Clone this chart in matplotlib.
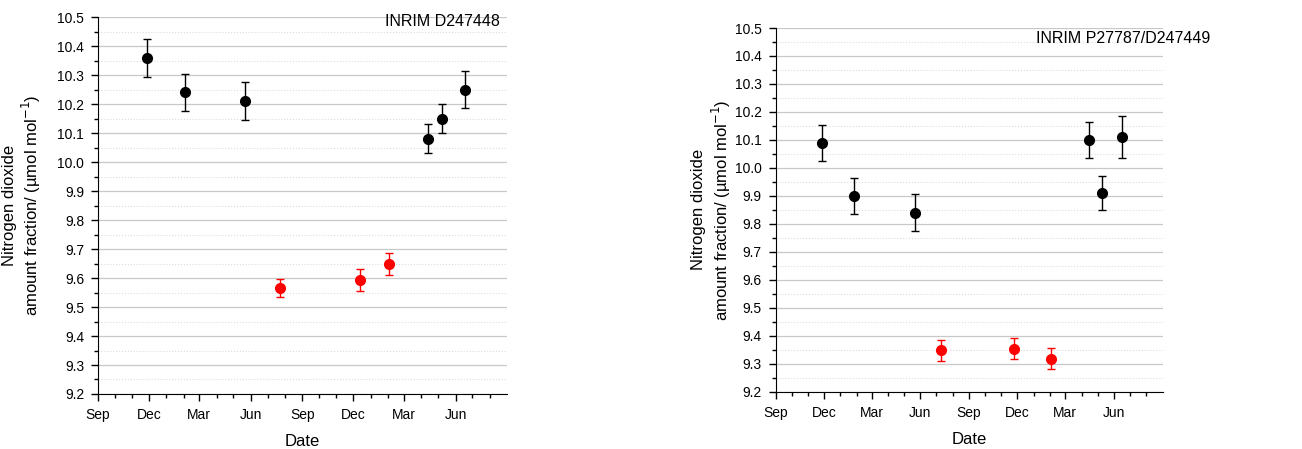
import datetime as dt
import matplotlib
matplotlib.use("Agg")
import matplotlib.pyplot as plt
import matplotlib.dates as mdates
from matplotlib.ticker import MultipleLocator, FormatStrFormatter

plt.rcParams["font.family"] = ["Liberation Sans", "DejaVu Sans"]

# left panel: INRIM D247448
left_black_dates = ["2018-11-28", "2019-02-03", "2019-05-22", "2020-04-13", "2020-05-08", "2020-06-17"]
left_black_vals = [10.36, 10.24, 10.21, 10.08, 10.15, 10.25]
left_black_err = [0.065, 0.065, 0.065, 0.05, 0.05, 0.065]
left_red_dates = ["2019-07-23", "2019-12-13", "2020-02-03"]
left_red_vals = [9.565, 9.593, 9.65]
left_red_err = [0.031, 0.038, 0.038]

# right panel: INRIM P27787/D247449
right_black_dates = ["2018-11-27", "2019-01-26", "2019-05-22", "2020-04-14", "2020-05-09", "2020-06-16"]
right_black_vals = [10.09, 9.90, 9.84, 10.10, 9.91, 10.11]
right_black_err = [0.065, 0.065, 0.065, 0.065, 0.06, 0.075]
right_red_dates = ["2019-07-10", "2019-11-25", "2020-02-02"]
right_red_vals = [9.348, 9.354, 9.318]
right_red_err = [0.038, 0.038, 0.038]

YLABEL = "Nitrogen dioxide\namount fraction/ (\u00b5mol mol$^{-1}$)"


def to_dates(lst):
    return [dt.datetime.strptime(s, "%Y-%m-%d") for s in lst]


def draw_panel(ax, bd, bv, be, rd, rv, re, title, title_xy, ylab_x):
    ax.errorbar(to_dates(bd), bv, yerr=be, fmt="o", color="black", ms=7,
                capsize=3, elinewidth=1, capthick=1, zorder=3)
    ax.errorbar(to_dates(rd), rv, yerr=re, fmt="o", color="red", ms=7,
                capsize=3, elinewidth=1, capthick=1, zorder=3)
    ax.set_xlim(dt.datetime(2018, 9, 1), dt.datetime(2020, 8, 31, 20))
    ax.set_ylim(9.2, 10.5)
    ax.yaxis.set_major_locator(MultipleLocator(0.1))
    ax.yaxis.set_minor_locator(MultipleLocator(0.05))
    ax.yaxis.set_major_formatter(FormatStrFormatter("%.1f"))
    ax.xaxis.set_major_locator(mdates.MonthLocator(bymonth=[3, 6, 9, 12]))
    ax.xaxis.set_minor_locator(mdates.MonthLocator())
    ax.xaxis.set_major_formatter(mdates.DateFormatter("%b"))
    ax.grid(True, which="major", axis="y", color="#c8c8c8", lw=0.9)
    ax.grid(True, which="minor", axis="y", color="#dcdcdc", lw=0.8, ls=":")
    ax.set_axisbelow(True)
    for s in ["top", "right"]:
        ax.spines[s].set_visible(False)
    ax.tick_params(which="major", direction="out", length=5, width=1,
                   labelsize=10, pad=5)
    ax.tick_params(which="minor", direction="out", length=3, width=1)
    ax.set_xlabel("Date", fontsize=12, labelpad=9)
    ax.set_ylabel(YLABEL, fontsize=12)
    ax.yaxis.set_label_coords(ylab_x, 0.5)
    ax.text(title_xy[0], title_xy[1], title, transform=ax.transAxes,
            ha="right", va="center", fontsize=11.5, clip_on=False)


fig = plt.figure(figsize=(13.02, 4.49), dpi=100)
ax1 = fig.add_axes([0.0753, 0.1225, 0.3141, 0.8395])
ax2 = fig.add_axes([0.5958, 0.1276, 0.2972, 0.81])

draw_panel(ax1, left_black_dates, left_black_vals, left_black_err,
           left_red_dates, left_red_vals, left_red_err,
           "INRIM D247448", (0.983, 0.989), -0.134)
draw_panel(ax2, right_black_dates, right_black_vals, right_black_err,
           right_red_dates, right_red_vals, right_red_err,
           "INRIM P27787/D247449", (1.122, 0.972), -0.11)

fig.savefig("out.png", dpi=100)
